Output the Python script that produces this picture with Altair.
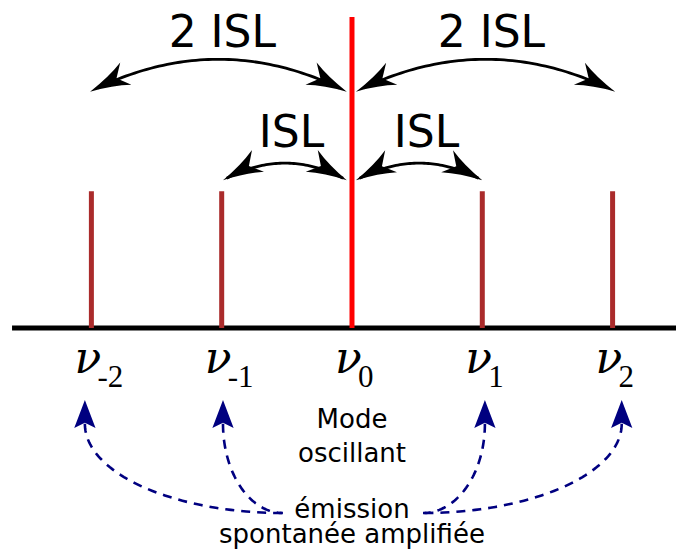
import altair as alt
import pandas as pd
import numpy as np

# ---------------- data ----------------
modes = [-2, -1, 0, 1, 2]                      # mode index (units of ISL)
mode_tops = [0.44, 0.44, 1.0, 0.44, 0.44]      # relative line heights
mode_colors = ["#aa2b2b", "#aa2b2b", "#ff0000", "#aa2b2b", "#aa2b2b"]
subscripts = ["-2", "-1", "0", "1", "2"]

# double-headed black arcs between modes
arc_x0 = [-2.01, 0.03, -0.99, 0.03]
arc_x1 = [-0.04, 2.02, -0.04, 1.00]
arc_y = [0.76, 0.76, 0.475, 0.475]
arc_rise = [0.104, 0.104, 0.055, 0.055]
arc_labels = ["2 ISL", "2 ISL", "ISL", "ISL"]
arc_label_x = [-0.995, 1.07, -0.464, 0.572]
arc_label_y = [0.9035, 0.9035, 0.582, 0.582]

# dashed blue arrows (amplified spontaneous emission)
ase_tip_x = [-2.05, -0.99, 1.02, 2.07]
ase_tip_y = [-0.2315, -0.2315, -0.2315, -0.2315]
ase_end_x = [-0.53, -0.53, 0.545, 0.545]
ase_end_y = [-0.595, -0.595, -0.595, -0.595]

center_texts = ["Mode", "oscillant", "émission", "spontanée amplifiée"]
center_text_y = [-0.3215, -0.431, -0.611, -0.691]

# ---------------- layout ----------------
W, H = 668, 541
XD = [-2.640, 2.4866]
YD = [-0.7106, 1.0289]
SX = W / (XD[1] - XD[0])
SY = H / (YD[1] - YD[0])

xs = alt.Scale(domain=XD, nice=False, zero=False)
ys = alt.Scale(domain=YD, nice=False, zero=False)
X = lambda f="x": alt.X(f"{f}:Q", scale=xs, axis=None)
Y = lambda f="y": alt.Y(f"{f}:Q", scale=ys, axis=None)

BLACK_HEAD = "M0,-1 Q0.22,0.15 0.62,1 L0,0.48 L-0.62,1 Q-0.22,0.15 0,-1 Z"
BLUE_HEAD = "M0,-1 L0.76,1 L0,0.62 L-0.76,1 Z"
BH = 20.0   # half-length of black head, px
UH = 14.0   # half-length of blue head, px


def head(tipx, tipy, dxp, dyp, half):
    n = np.hypot(dxp, dyp)
    ux, uy = dxp / n, dyp / n
    cx = tipx - ux * half / SX
    cy = tipy + uy * half / SY
    ang = np.degrees(np.arctan2(dxp, -dyp)) % 360
    return cx, cy, ang


# baseline
base_df = pd.DataFrame({"x": [-2.609], "x2": [XD[1]], "y": [0.0]})
baseline = alt.Chart(base_df).mark_rule(color="black", strokeWidth=5, strokeCap="butt").encode(
    x=X(), x2="x2:Q", y=Y())

# mode lines
mode_df = pd.DataFrame({"x": modes, "y": [0.0] * 5, "y2": mode_tops, "c": mode_colors})
mode_lines = alt.Chart(mode_df).mark_rule(strokeWidth=5, strokeCap="butt").encode(
    x=X(), y=Y(), y2="y2:Q", color=alt.Color("c:N", scale=None))

# black arcs + heads
rows, heads = [], []
for k in range(len(arc_x0)):
    p0 = np.array([arc_x0[k], arc_y[k]])
    p2 = np.array([arc_x1[k], arc_y[k]])
    p1 = np.array([(arc_x0[k] + arc_x1[k]) / 2, arc_y[k] + 2 * arc_rise[k]])
    for i, t in enumerate(np.linspace(0.03, 0.97, 60)):
        p = (1 - t) ** 2 * p0 + 2 * (1 - t) * t * p1 + t ** 2 * p2
        rows.append({"id": k, "i": i, "x": p[0], "y": p[1]})
    for tip, frm in ((p2, p1), (p0, p1)):
        d = tip - frm
        cx, cy, a = head(tip[0], tip[1], d[0] * SX, -d[1] * SY, BH)
        heads.append({"x": cx, "y": cy, "a": a})
arc_df = pd.DataFrame(rows)
arcs = alt.Chart(arc_df).mark_line(color="black", strokeWidth=2.8).encode(
    x=X(), y=Y(), detail="id:N", order="i:Q")
black_heads = alt.Chart(pd.DataFrame(heads)).mark_point(
    shape=BLACK_HEAD, filled=True, opacity=1, color="black", strokeWidth=0, size=(2 * BH) ** 2
).encode(x=X(), y=Y(), angle=alt.Angle("a:Q", scale=None))

arc_text = alt.Chart(pd.DataFrame({"x": arc_label_x, "y": arc_label_y, "t": arc_labels})).mark_text(
    font="DejaVu Sans", fontSize=44, align="center", baseline="alphabetic", color="black"
).encode(x=X(), y=Y(), text="t:N")

# blue dashed arcs + heads
brows, bheads = [], []
for k in range(len(ase_tip_x)):
    base_y = ase_tip_y[k] - 2 * UH / SY * 0.85
    for i, t in enumerate(np.linspace(0, np.pi / 2, 60)):
        x = ase_end_x[k] + (ase_tip_x[k] - ase_end_x[k]) * np.cos(t)
        y = base_y + (ase_end_y[k] - base_y) * np.sin(t)
        brows.append({"id": k, "i": i, "x": x, "y": y})
    cx, cy, a = head(ase_tip_x[k], ase_tip_y[k], 0.0, -1.0, UH)
    bheads.append({"x": cx, "y": cy, "a": a})
blue_arcs = alt.Chart(pd.DataFrame(brows)).mark_line(
    color="#000080", strokeWidth=2.6, strokeDash=[9, 7]).encode(
    x=X(), y=Y(), detail="id:N", order="i:Q")
blue_heads = alt.Chart(pd.DataFrame(bheads)).mark_point(
    shape=BLUE_HEAD, filled=True, opacity=1, color="#000080", strokeWidth=0, size=(2 * UH) ** 2
).encode(x=X(), y=Y(), angle=alt.Angle("a:Q", scale=None))

# nu labels
nu_df = pd.DataFrame({"x": modes, "y": [-0.1447] * 5, "ys": [-0.19] * 5,
                      "n": ["ν"] * 5, "s": subscripts})
nu = alt.Chart(nu_df).mark_text(
    font="DejaVu Serif", fontStyle="italic", fontSize=44, align="left",
    baseline="alphabetic", dx=-17, color="black").encode(x=X(), y=Y(), text="n:N")
nu_sub = alt.Chart(nu_df).mark_text(
    font="Liberation Serif", fontSize=31, align="left",
    baseline="alphabetic", dx=6, color="black").encode(x=X(), y=Y("ys"), text="s:N")

ctext = alt.Chart(pd.DataFrame({"x": [0.0] * 4, "y": center_text_y, "t": center_texts})).mark_text(
    font="DejaVu Sans", fontSize=26, align="center", baseline="alphabetic", color="black"
).encode(x=X(), y=Y(), text="t:N")

chart = alt.layer(
    baseline, mode_lines, arcs, black_heads, arc_text, blue_arcs, blue_heads, nu, nu_sub, ctext
).properties(
    width=W, height=H, autosize=alt.AutoSizeParams(type="none"), padding=0
).configure_view(stroke=None)

chart.save("out.html", embed_options={"renderer": "svg", "actions": False})
